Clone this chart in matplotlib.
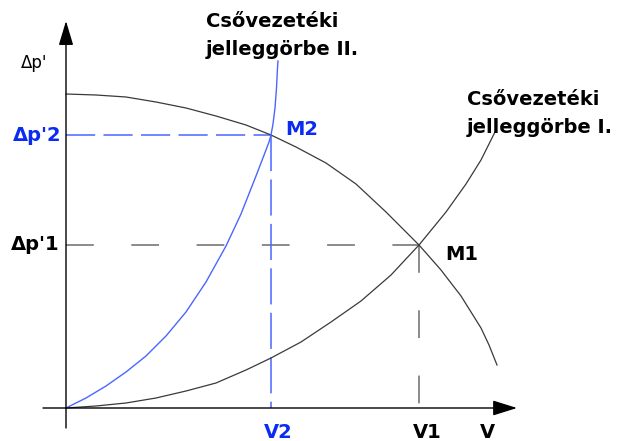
import matplotlib.pyplot as plt

plt.rcParams['font.family'] = 'DejaVu Sans'
plt.rcParams['lines.scale_dashes'] = False

# pump curve (delta p' vs V)
pump_v = [0, 30, 60, 90, 120, 150, 180, 205, 230, 260, 290, 320, 353, 375, 395, 415, 423, 431]
pump_dp = [314, 313, 311, 306, 300, 292, 283, 273, 261, 245, 224, 196, 163, 138, 112, 80, 63, 43]

# system curve I (black)
sys1_v = [0, 30, 60, 90, 120, 150, 180, 205, 235, 265, 295, 325, 353, 380, 400, 415, 430]
sys1_dp = [0, 2, 5, 10, 17, 25, 38, 50, 66, 86, 107, 133, 163, 196, 224, 248, 278]

# system curve II (blue)
sys2_v = [0, 20, 40, 60, 80, 100, 120, 140, 160, 175, 190, 195, 200, 203, 205, 207, 209, 210.5, 211.5, 212]
sys2_dp = [0, 10, 22, 36, 52, 72, 96, 126, 162, 194, 232, 245, 258, 266, 273, 284, 300, 320, 340, 347]

# operating points
m1 = (353, 163)
m2 = (205, 273)

blue_line = '#4a66ff'
blue_text = '#0b2cf0'
grey = '#8a8a8a'
dark = '#3a3a3a'

fig = plt.figure(figsize=(6.25, 4.41), dpi=100)
ax = fig.add_axes([0, 0, 1, 1])
ax.set_xlim(-66, 559)
ax.set_ylim(-33, 408)
ax.axis('off')

# axes with arrows
ax.annotate('', xy=(451, 0), xytext=(-23, 0),
            arrowprops=dict(arrowstyle='-|>,head_length=1.5,head_width=0.47',
                            color='black', lw=1, shrinkA=0, shrinkB=0, mutation_scale=10))
ax.annotate('', xy=(0, 387), xytext=(0, -20),
            arrowprops=dict(arrowstyle='-|>,head_length=1.5,head_width=0.45',
                            color='black', lw=1, shrinkA=0, shrinkB=0, mutation_scale=10))

# dashed helper lines
ax.plot([0, m1[0]], [m1[1], m1[1]], color=grey, lw=1.4, dashes=(20, 27))
ax.plot([m1[0], m1[0]], [m1[1], 0], color=grey, lw=1.4, dashes=(20, 27))
ax.plot([0, m2[0]], [m2[1], m2[1]], color=blue_line, lw=1.1, dashes=(21, 6))
ax.plot([m2[0], m2[0]], [m2[1], 0], color=blue_line, lw=1.1, dashes=(26, 6))

# curves
ax.plot(pump_v, pump_dp, color=dark, lw=0.9)
ax.plot(sys1_v, sys1_dp, color=dark, lw=0.9)
ax.plot(sys2_v, sys2_dp, color=blue_line, lw=1.0)

fs = 14
ax.text(-19, 340, "\u0394p'", fontsize=12, ha='right', va='baseline')
ax.text(-4, m2[1] - 6, "\u0394p'2", fontsize=fs, fontweight='bold', color=blue_text,
        ha='right', va='baseline')
ax.text(-6, m1[1] - 5, "\u0394p'1", fontsize=fs, fontweight='bold', ha='right', va='baseline')
ax.text(m2[0] + 14, m2[1], 'M2', fontsize=fs, fontweight='bold', color=blue_text, va='baseline')
ax.text(m1[0] + 26, m1[1] - 15, 'M1', fontsize=fs, fontweight='bold', va='baseline')
ax.text(212, -30, 'V2', fontsize=fs, fontweight='bold', color=blue_text, ha='center', va='baseline')
ax.text(361, -30, 'V1', fontsize=fs, fontweight='bold', ha='center', va='baseline')
ax.text(421, -30, 'V', fontsize=fs, fontweight='bold', ha='center', va='baseline')

ax.text(140, 381, 'Csővezetéki', fontsize=fs, fontweight='bold', va='baseline')
ax.text(140, 353, 'jelleggörbe II.', fontsize=fs, fontweight='bold', va='baseline')
ax.text(401, 303, 'Csővezetéki', fontsize=fs, fontweight='bold', va='baseline')
ax.text(401, 275, 'jelleggörbe I.', fontsize=fs, fontweight='bold', va='baseline')

fig.savefig('out.png', dpi=100)
